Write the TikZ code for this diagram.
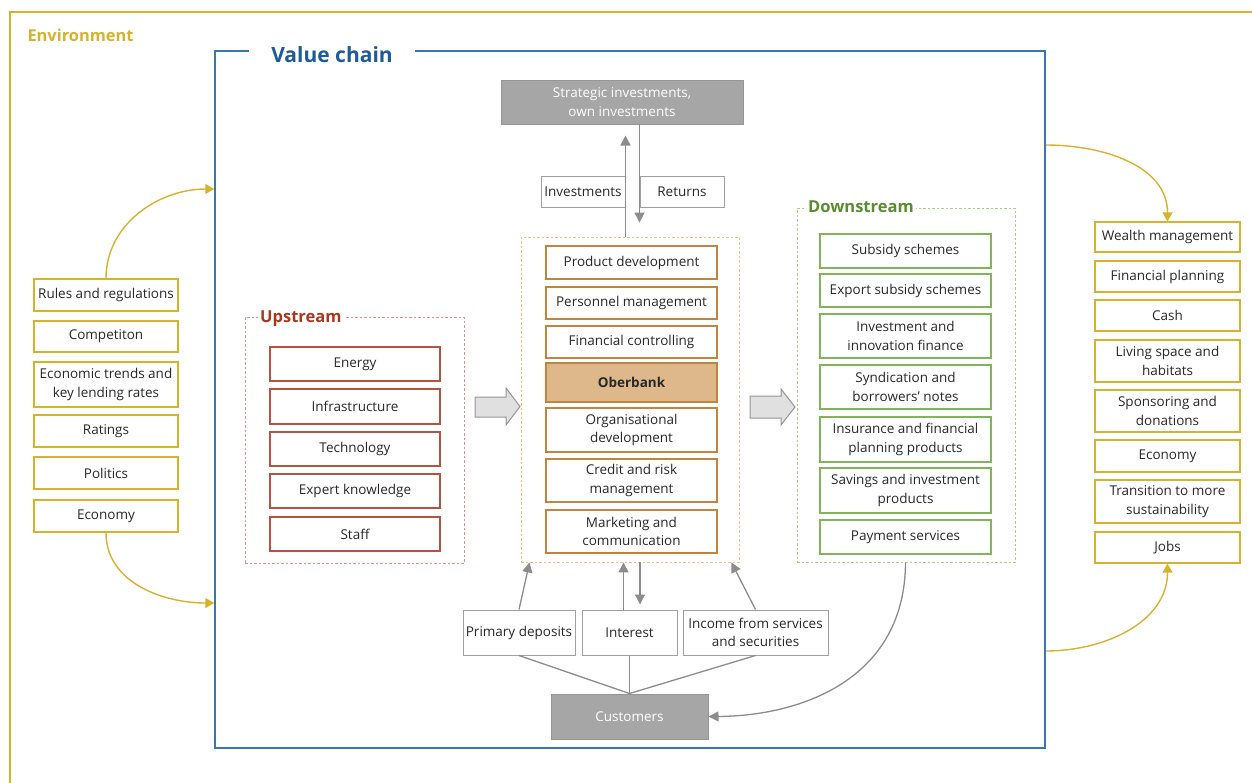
\documentclass[tikz,border=0pt]{standalone}
\usepackage{fontspec}
\setmainfont{Open Sans}
\usetikzlibrary{arrows.meta,calc}

\definecolor{envY}{RGB}{214,178,45}
\definecolor{vcLine}{RGB}{58,118,178}
\definecolor{vcTitle}{RGB}{31,91,153}
\definecolor{upBox}{RGB}{180,84,62}
\definecolor{upDash}{RGB}{230,140,150}
\definecolor{upTitle}{RGB}{168,56,30}
\definecolor{midBox}{RGB}{196,132,62}
\definecolor{midDash}{RGB}{240,190,130}
\definecolor{obFill}{RGB}{222,184,138}
\definecolor{dnBox}{RGB}{130,180,90}
\definecolor{dnDash}{RGB}{170,205,140}
\definecolor{dnTitle}{RGB}{90,140,50}
\definecolor{grFill}{RGB}{166,166,166}
\definecolor{grLine}{RGB}{150,150,150}
\definecolor{grArrow}{RGB}{140,140,140}
\definecolor{txt}{RGB}{40,40,40}

\tikzset{
  box/.style={draw, line width=1.2pt, inner sep=0pt, align=center, text=txt,
    font=\fontsize{13.5}{18.5}\selectfont},
  envbox/.style={box, draw=envY, minimum width=144pt},
  outbox/.style={box, draw=envY, minimum width=145pt},
  upbox/.style={box, draw=upBox, minimum width=170pt},
  midbox/.style={box, draw=midBox, minimum width=171pt},
  dnbox/.style={box, draw=dnBox, minimum width=171pt},
  flowbox/.style={box, draw=grLine!90, line width=1pt},
  graybox/.style={box, draw=grLine, fill=grFill, text=white, line width=1pt},
  container/.style={draw, dashed, dash pattern=on 2.5pt off 2pt, line width=0.9pt, inner sep=0pt},
  grouptitle/.style={fill=white, inner xsep=2pt, inner ysep=0pt, anchor=west,
    font=\fontsize{16.5}{18}\bfseries},
  garrow/.style={draw=grArrow, line width=1.3pt, -{Triangle[width=10pt,length=10pt]}},
  gline/.style={draw=grArrow, line width=1.3pt},
  yarrow/.style={draw=envY, line width=1.4pt, -{Triangle[width=10pt,length=9pt]}},
  blockarrow/.style={draw=grLine, fill=black!12, line width=1pt},
}

\begin{document}
\begin{tikzpicture}[x=1pt,y=-1pt]
\useasboundingbox (0,0) rectangle (1252,782);
\clip (0,0) rectangle (1252,782);

% environment frame
\draw[envY, line width=1.4pt] (10,800) |- (1270,12);
\node[anchor=west, text=envY, font=\fontsize{16.4}{18}\bfseries] (envtitle) at (24,35) {Environment};

% value chain frame
\node[draw=vcLine, line width=1.5pt, minimum width=830pt, minimum height=697pt, inner sep=0pt]
  (vc) at (630,399.5) {};
\node[fill=white, text=vcTitle, minimum width=166pt, inner sep=0pt,
  font=\fontsize{21}{24}\bfseries] (vctitle) at (332,55) {Value chain};

% environment factors (left)
\node[envbox, minimum height=32pt] (e1) at (106,295) {Rules and regulations};
\node[envbox, minimum height=31pt] (e2) at (106,336.5) {Competiton};
\node[envbox, minimum height=45pt] (e3) at (106,384.5) {Economic trends and\\key lending rates};
\node[envbox, minimum height=32pt] (e4) at (106,431) {Ratings};
\node[envbox, minimum height=32pt] (e5) at (106,473) {Politics};
\node[envbox, minimum height=32pt] (e6) at (106,516) {Economy};

% impacts (right)
\node[outbox, minimum height=30pt] (o1) at (1167.5,237) {Wealth management};
\node[outbox, minimum height=31pt] (o2) at (1167.5,276.5) {Financial planning};
\node[outbox, minimum height=31pt] (o3) at (1167.5,315.5) {Cash};
\node[outbox, minimum height=42pt] (o4) at (1167.5,361) {Living space and\\habitats};
\node[outbox, minimum height=42pt] (o5) at (1167.5,411) {Sponsoring and\\donations};
\node[outbox, minimum height=32pt] (o6) at (1167.5,456) {Economy};
\node[outbox, minimum height=43pt] (o7) at (1167.5,501.5) {Transition to more\\sustainability};
\node[outbox, minimum height=31pt] (o8) at (1167.5,547.5) {Jobs};

% upstream
\node[container, draw=upDash, minimum width=219pt, minimum height=246pt] (upC) at (354.5,440) {};
\node[grouptitle, text=upTitle] (uptitle) at (258,319) {Upstream};
\node[upbox, minimum height=34pt] (u1) at (355,364) {Energy};
\node[upbox, minimum height=35pt] (u2) at (355,406.5) {Infrastructure};
\node[upbox, minimum height=34pt] (u3) at (355,449) {Technology};
\node[upbox, minimum height=34pt] (u4) at (355,491) {Expert knowledge};
\node[upbox, minimum height=34pt] (u5) at (355,534) {Staff};

% bank (centre)
\node[container, draw=midDash, minimum width=218pt, minimum height=325pt] (midC) at (630,399.5) {};
\node[midbox, minimum height=33pt] (m1) at (631.5,262.5) {Product development};
\node[midbox, minimum height=32pt] (m2) at (631.5,303) {Personnel management};
\node[midbox, minimum height=32pt] (m3) at (631.5,342) {Financial controlling};
\node[midbox, fill=obFill, minimum height=39pt, font=\fontsize{13.5}{18.5}\bfseries] (m4) at (631.5,382.5) {Oberbank};
\node[midbox, minimum height=44pt] (m5) at (631.5,430) {Organisational\\development};
\node[midbox, minimum height=43pt] (m6) at (631.5,480.5) {Credit and risk\\management};
\node[midbox, minimum height=43pt] (m7) at (631.5,531.5) {Marketing and\\communication};

% downstream
\node[container, draw=dnDash, minimum width=218pt, minimum height=354pt] (dnC) at (906,385) {};
\node[grouptitle, text=dnTitle] (dntitle) at (806,207) {Downstream};
\node[dnbox, minimum height=34pt] (d1) at (905.5,251) {Subsidy schemes};
\node[dnbox, minimum height=33pt] (d2) at (905.5,290.5) {Export subsidy schemes};
\node[dnbox, minimum height=44pt] (d3) at (905.5,336) {Investment and\\innovation finance};
\node[dnbox, minimum height=44pt] (d4) at (905.5,387) {Syndication and\\borrowers' notes};
\node[dnbox, minimum height=45pt] (d5) at (905.5,439.5) {Insurance and financial\\planning products};
\node[dnbox, minimum height=45pt] (d6) at (905.5,490.5) {Savings and investment\\products};
\node[dnbox, minimum height=34pt] (d7) at (905.5,537) {Payment services};

% block arrows between the stages
\draw[blockarrow] (475,397) -- (506,397) -- (506,388) -- (520,406.5) -- (506,425) -- (506,417) -- (475,417) -- cycle;
\draw[blockarrow] (750,396) -- (781,396) -- (781,389) -- (795,407) -- (781,425) -- (781,418) -- (750,418) -- cycle;

% investments
\node[graybox, minimum width=242pt, minimum height=44pt] (strat) at (622,102) {Strategic investments,\\own investments};
\node[flowbox, minimum width=84pt, minimum height=31pt] (inv) at (583,191.5) {Investments};
\node[flowbox, minimum width=84pt, minimum height=31pt] (ret) at (682,191.5) {Returns};
\draw[garrow, shorten >=11pt] (inv.east |- midC.north) -- (inv.east |- strat.south);
\draw[garrow, shorten >=14pt] (ret.west |- strat.south) -- (ret.west |- midC.north);

% customers and flows
\node[graybox, minimum width=157pt, minimum height=45pt] (cust) at (629.5,716.5) {Customers};
\node[flowbox, minimum width=112pt, minimum height=45pt] (pd) at (519,632.5) {Primary deposits};
\node[flowbox, minimum width=95pt, minimum height=45pt] (intr) at (629.5,632.5) {Interest};
\node[flowbox, minimum width=145pt, minimum height=45pt] (inc) at (755.5,632.5) {Income from services\\and securities};

\draw[gline] (pd.south) -- (cust.north);
\draw[gline] (intr.south) -- (cust.north);
\draw[gline] (inc.south) -- (cust.north);

\draw[garrow] (pd.north) -- ($(midC.south west)+(9,0)$);
\draw[garrow] ([xshift=-6pt]intr.north) -- ([xshift=-6pt]intr.north |- midC.south);
\draw[garrow, shorten >=5pt] ([xshift=10.5pt]intr.north |- midC.south) -- ([xshift=10.5pt]intr.north);
\draw[garrow] (inc.north) -- ($(midC.south east)+(-8,0)$);
\draw[garrow] (d7.south |- dnC.south) .. controls (905,680) and (800,716) .. (cust.east);

% environment influence arrows
\coordinate (vin1) at (vc.west |- 0,189);
\coordinate (vin2) at (vc.west |- 0,603);
\coordinate (vout1) at (vc.east |- 0,145);
\coordinate (vout2) at (vc.east |- 0,651);
\draw[yarrow] (e1.north) to[out=90,in=180] (vin1);
\draw[yarrow] (e6.south) to[out=-90,in=180] (vin2);
\draw[yarrow] (vout1) to[out=0,in=90] (o1.north);
\draw[yarrow] (vout2) to[out=0,in=-90] (o8.south);
\end{tikzpicture}
\end{document}
